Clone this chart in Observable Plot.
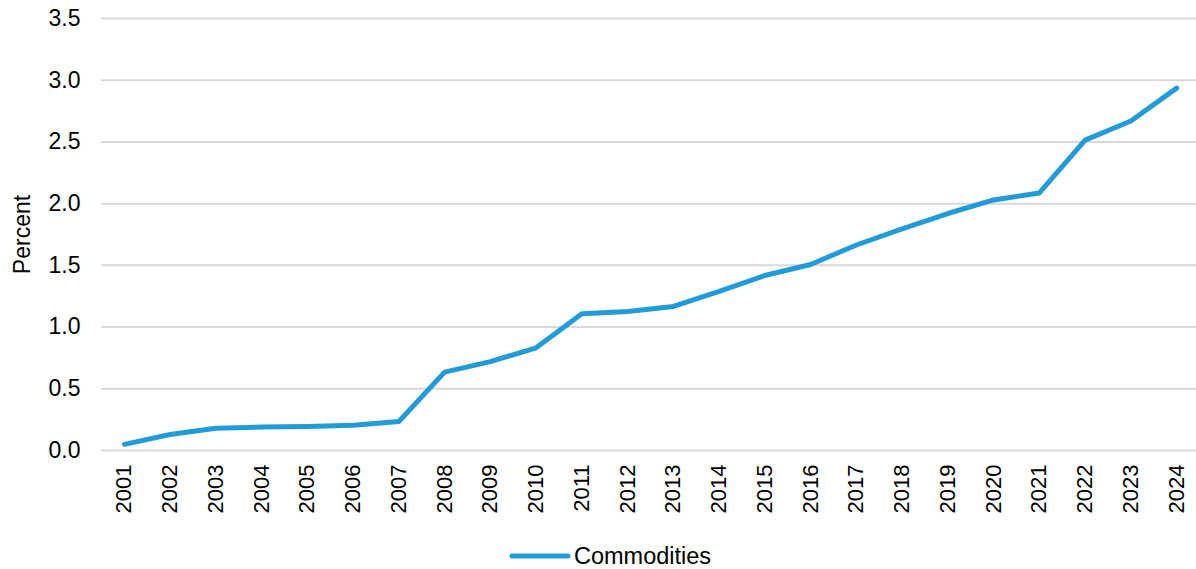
<!DOCTYPE html>
<html>
<head>
<meta charset="utf-8">
<script src="https://cdn.jsdelivr.net/npm/d3@7"></script>
<script src="https://cdn.jsdelivr.net/npm/@observablehq/plot@0.6"></script>
<style>
  html, body { margin: 0; padding: 0; background: #fff; }
  #wrap { position: relative; width: 1196px; height: 569px; font-family: "Liberation Sans", Arial, sans-serif; }
  #legend { position: absolute; left: 509px; top: 542px; display: flex; align-items: center; font-size: 23.5px; color: #000; line-height: 28px; }
  #legend svg { display: block; margin-right: 3px; }
  #chart svg g[aria-label="x-axis tick label"] { font-size: 22px; }
  #chart svg g[aria-label="y-axis tick label"] { font-size: 23px; }
  #chart svg g[aria-label="y-axis label"] { font-size: 23px; }
</style>
</head>
<body>
<div id="wrap">
  <div id="chart"></div>
  <div id="legend"></div>
</div>
<script>
// Years on the horizontal axis
const years = ["2001","2002","2003","2004","2005","2006","2007","2008","2009","2010","2011","2012",
               "2013","2014","2015","2016","2017","2018","2019","2020","2021","2022","2023","2024"];

// Commodities share, percent
const commodities = [0.05, 0.13, 0.18, 0.19, 0.195, 0.205, 0.235, 0.635, 0.72, 0.832, 1.108, 1.126,
                     1.167, 1.289, 1.418, 1.507, 1.665, 1.795, 1.92, 2.03, 2.087, 2.515, 2.67, 2.936];

// Vertical axis ticks
const yTicks = [0, 0.5, 1.0, 1.5, 2.0, 2.5, 3.0, 3.5];

const seriesName = "Commodities";
const lineColor = "#229cd8";

const data = years.map((year, i) => ({year, value: commodities[i]}));

const chart = Plot.plot({
  width: 1196,
  height: 525,
  marginLeft: 101,
  marginRight: 0,
  marginTop: 18,
  marginBottom: 75,
  style: {fontFamily: "Liberation Sans, Arial, sans-serif", fontSize: "22px", color: "#000", background: "#fff"},
  x: {type: "point", domain: years, padding: 0.5, round: false, range: [101, 1199]},
  y: {domain: [0, 3.5]},
  marks: [
    Plot.gridY(yTicks, {stroke: "#d9d9d9", strokeOpacity: 1, strokeWidth: 2}),
    Plot.axisY(yTicks, {
      tickSize: 0, tickPadding: 21, tickFormat: d => d.toFixed(1),
      label: "Percent", labelAnchor: "center", labelArrow: "none", labelOffset: 88
    }),
    Plot.axisX({tickSize: 0, tickRotate: -90, tickPadding: 14, label: null}),
    Plot.lineY(data, {x: "year", y: "value", stroke: lineColor, strokeWidth: 5,
                      strokeLinecap: "round", strokeLinejoin: "round"})
  ]
});
document.getElementById("chart").appendChild(chart);

// Legend below the chart
const legend = d3.select("#legend");
const sw = legend.append("svg").attr("width", 62).attr("height", 10);
sw.append("line").attr("x1", 3).attr("x2", 59).attr("y1", 5).attr("y2", 5)
  .attr("stroke", lineColor).attr("stroke-width", 5).attr("stroke-linecap", "round");
legend.append("span").text(seriesName);
</script>
</body>
</html>
